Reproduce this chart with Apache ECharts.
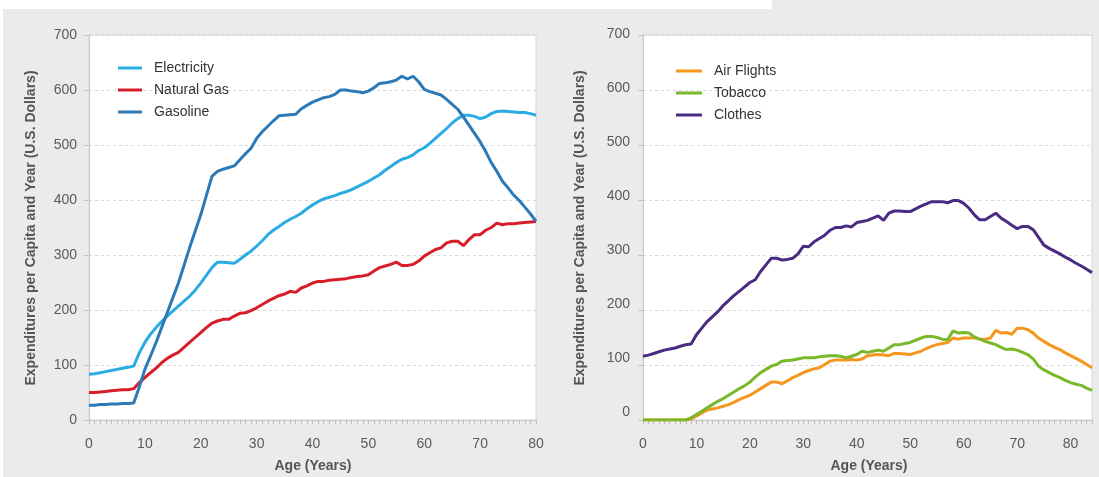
<!DOCTYPE html>
<html>
<head>
<meta charset="utf-8">
<script src="https://cdn.jsdelivr.net/npm/echarts@6/dist/echarts.min.js"></script>
<style>
  html, body { margin: 0; padding: 0; background: #fff; }
  #chart { width: 1099px; height: 477px; }
</style>
</head>
<body>
<div id="chart"></div>
<script>
// Per-capita yearly expenditures by age (U.S. dollars)
const agesLeft = Array.from({ length: 81 }, (_, i) => i);   // 0..80
const agesRight = Array.from({ length: 85 }, (_, i) => i);  // 0..84

const electricity = [83,84,86,88,90,92,94,96,98,122,141,156,168,179,189,198,207,216,225,236,249,263,277,287,287,286,285,292,300,307,316,326,337,345,352,359,365,370,376,384,391,397,402,405,408,412,415,419,424,429,434,440,446,454,461,468,474,477,482,490,495,503,512,521,530,540,548,554,554,552,548,551,557,561,562,561,560,559,559,557,554];
const naturalGas = [50,50,51,52,53,54,55,55,57,68,77,86,94,104,112,118,123,132,141,150,159,168,176,180,183,183,189,194,195,199,204,210,216,221,226,229,234,232,240,244,249,252,252,254,255,256,257,259,261,262,264,271,277,280,283,287,281,281,283,289,298,304,310,313,322,325,325,317,328,337,337,345,350,358,355,357,357,358,359,360,361];
const gasoline = [27,27,28,28,29,29,30,30,31,60,92,116,141,168,195,222,249,281,313,343,373,408,443,452,456,459,462,473,484,494,512,524,534,544,553,554,555,556,566,572,578,582,586,588,592,600,600,598,597,595,598,604,612,613,615,618,625,620,625,615,601,597,594,591,583,574,565,551,536,521,506,488,468,452,434,422,409,399,387,375,361];

const airFlights = [0,0,0,0,0,0,0,0,0,2,7,13,18,20,22,25,28,32,37,41,45,51,57,63,69,69,66,71,77,81,86,90,93,95,101,107,109,109,109,110,109,111,117,118,119,118,117,121,121,120,119,122,125,130,134,137,139,141,149,147,149,149,149,147,147,149,163,158,159,156,167,167,164,158,149,143,137,132,128,122,117,112,107,101,95];
const tobacco = [0,0,0,0,0,0,0,0,0,4,10,16,22,28,34,39,45,51,57,62,69,78,86,92,98,101,107,108,109,111,113,113,113,115,116,117,117,116,113,116,119,125,123,125,127,125,131,137,137,139,141,145,149,152,152,150,147,146,162,158,159,158,151,147,143,140,137,132,128,129,127,123,119,111,98,91,86,81,77,72,68,65,63,58,54];
const clothes = [116,118,121,124,127,129,131,134,137,138,155,167,179,188,197,208,217,226,234,242,250,255,270,282,294,294,291,292,294,302,316,315,324,330,336,345,350,350,353,351,359,361,363,367,371,363,376,380,380,379,379,384,389,393,397,397,397,395,399,399,394,385,373,364,364,370,376,367,361,354,348,352,352,346,332,318,312,307,302,296,291,285,280,274,268];

const leftNames = ['Electricity', 'Natural Gas', 'Gasoline'];
const rightNames = ['Air Flights', 'Tobacco', 'Clothes'];
const yTicks = { min: 0, max: 700, interval: 100 };
const xLabelStep = 10;
const yTitle = 'Expenditures per Capita and Year (U.S. Dollars)';
const xTitle = 'Age (Years)';

const FONT = '"Liberation Sans", Arial, sans-serif';
const axisGray = '#c9c9c9';
const labelGray = '#5a5a5a';

function pairs(ages, vals) { return ages.map((a, i) => [a, vals[i]]); }

function xAxisCfg(gridIndex, max) {
  return {
    type: 'value', gridIndex, min: 0, max, interval: 1,
    axisLine: { show: true, lineStyle: { color: axisGray, width: 1 } },
    axisTick: { show: true, length: 4, lineStyle: { color: '#bdbdbd' } },
    axisLabel: {
      margin: 17, fontSize: 14, color: labelGray, fontFamily: FONT,
      formatter: v => (v % xLabelStep === 0 ? String(v) : '')
    },
    splitLine: { show: false }
  };
}

function yAxisCfg(gridIndex, showLabels) {
  return {
    type: 'value', gridIndex, ...yTicks,
    axisLine: { show: true, lineStyle: { color: axisGray, width: 1 } },
    axisTick: { show: true, length: 5, lineStyle: { color: '#c4c4c4' } },
    axisLabel: { show: showLabels, margin: 12, fontSize: 14, color: labelGray, fontFamily: FONT },
    splitLine: { show: true, lineStyle: { color: '#d9d9d9', type: [3, 3], width: 1 } }
  };
}

function lineSeries(name, ages, vals, color, idx) {
  return {
    name, type: 'line', xAxisIndex: idx, yAxisIndex: idx,
    data: pairs(ages, vals), showSymbol: false, symbol: 'none',
    lineStyle: { width: 3, color }, itemStyle: { color },
    emphasis: { disabled: true }, silent: true
  };
}

function legendCfg(names, left, top, width) {
  return {
    data: names, orient: 'vertical', left, top, icon: 'rect', padding: 0,
    itemWidth: width, itemHeight: 3, itemGap: 6,
    selectedMode: false,
    textStyle: { fontSize: 14, color: '#333', fontFamily: FONT, lineHeight: 16, padding: [0, 0, 0, 7] }
  };
}

const chart = echarts.init(document.getElementById('chart'), null, { renderer: 'canvas' });

chart.setOption({
  animation: false,
  backgroundColor: '#ebebeb',
  grid: [
    { left: 89, top: 35, width: 447, height: 385, show: true, backgroundColor: '#fff', borderColor: '#d6d6d6', borderWidth: 1 },
    { left: 643, top: 35, width: 449, height: 385, show: true, backgroundColor: '#fff', borderColor: '#d6d6d6', borderWidth: 1 },
    { left: 643, top: 34, width: 449, height: 378, show: false }
  ],
  xAxis: [
    xAxisCfg(0, 80),
    xAxisCfg(1, 84),
    { type: 'value', gridIndex: 2, min: 0, max: 84, show: false }
  ],
  yAxis: [
    yAxisCfg(0, true),
    yAxisCfg(1, false),
    {
      type: 'value', gridIndex: 2, ...yTicks,
      axisLine: { show: false }, axisTick: { show: false }, splitLine: { show: false },
      axisLabel: { show: true, margin: 13, fontSize: 14, color: labelGray, fontFamily: FONT }
    }
  ],
  legend: [
    legendCfg(leftNames, 118, 60, 24),
    legendCfg(rightNames, 676, 63, 26)
  ],
  series: [
    lineSeries('Electricity', agesLeft, electricity, '#2aace2', 0),
    lineSeries('Natural Gas', agesLeft, naturalGas, '#d71e28', 0),
    lineSeries('Gasoline', agesLeft, gasoline, '#2c79b7', 0),
    lineSeries('Air Flights', agesRight, airFlights, '#f5961f', 1),
    lineSeries('Tobacco', agesRight, tobacco, '#79b82a', 1),
    lineSeries('Clothes', agesRight, clothes, '#4a2b82', 1)
  ],
  graphic: [
    { type: 'rect', left: 0, top: 0, shape: { width: 772, height: 9 }, style: { fill: '#fff' }, silent: true },
    { type: 'rect', left: 0, top: 0, shape: { width: 3, height: 477 }, style: { fill: '#fff' }, silent: true },
    {
      type: 'text', x: 31, y: 228, rotation: Math.PI / 2, silent: true,
      style: { text: yTitle, align: 'center', verticalAlign: 'middle', font: 'bold 14px ' + FONT, fill: '#555' }
    },
    {
      type: 'text', x: 580, y: 228, rotation: Math.PI / 2, silent: true,
      style: { text: yTitle, align: 'center', verticalAlign: 'middle', font: 'bold 14px ' + FONT, fill: '#555' }
    },
    {
      type: 'text', x: 313, y: 466, silent: true,
      style: { text: xTitle, align: 'center', verticalAlign: 'middle', font: 'bold 14px ' + FONT, fill: '#555' }
    },
    {
      type: 'text', x: 869, y: 466, silent: true,
      style: { text: xTitle, align: 'center', verticalAlign: 'middle', font: 'bold 14px ' + FONT, fill: '#555' }
    }
  ]
});
</script>
</body>
</html>
